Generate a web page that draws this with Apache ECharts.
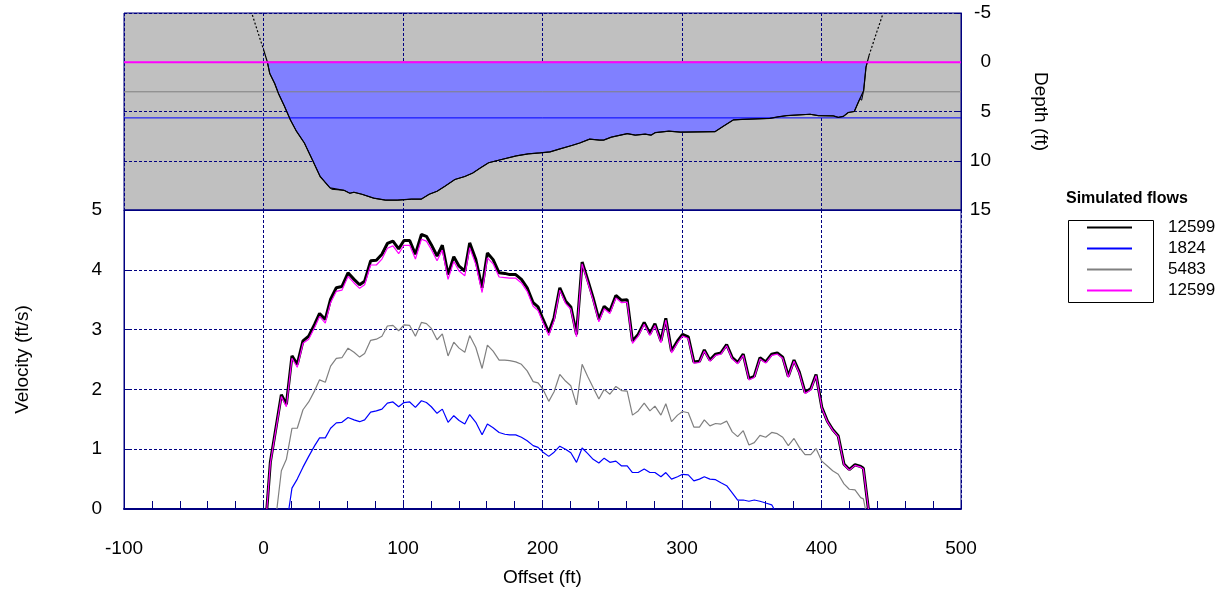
<!DOCTYPE html>
<html><head><meta charset="utf-8">
<script src="https://cdn.jsdelivr.net/npm/echarts@6/dist/echarts.min.js"></script>
<style>html,body{margin:0;padding:0;background:#fff}#c{width:1225px;height:592px}</style>
</head><body><div id="c"></div>
<script>
// ---- Velocity profiles (ft/s) vs offset (ft) ----
const stations = [
 2.4, 4.9, 9.6, 12.8, 16.4, 18.2, 20.4, 24.2, 28.3, 32.4,
 36.7, 40.2, 44.3, 48.1, 52.2, 56.2, 60.6, 64.9, 68.9, 72.5,
 76.8, 80.9, 84.9, 88.8, 92.8, 96.9, 100.7, 104.8, 108.9, 113.2,
 116.8, 120.3, 124.4, 128.2, 132.3, 136.4, 140.2, 144.3, 147.8, 152.2,
 156.7, 160.5, 164.6, 168.9, 173.0, 176.5, 180.8, 184.9, 189.0, 193.3,
 196.8, 200.4, 204.5, 208.3, 212.4, 216.5, 220.3, 224.4, 228.4, 232.3,
 236.3, 240.4, 244.2, 248.3, 252.6, 256.7, 260.7, 264.5, 268.6, 272.9,
 277.0, 280.6, 284.9, 288.4, 292.5, 296.8, 300.4, 304.5, 308.5, 312.5,
 316.0, 320.0, 324.1, 327.9, 332.0, 336.0, 339.9, 343.9, 348.0, 351.8,
 355.9, 360.0, 364.3, 366.0, 368.3, 372.2, 376.2, 380.3, 384.1, 388.2,
 392.3, 396.1, 400.2, 404.2, 408.0, 412.0, 416.1, 419.9, 424.0, 428.1,
 430.0, 431.5, 433.6];
const vel12599a = [
 0, 0.78, null, 1.91, 1.75, null, 2.56, 2.42, 2.81, 2.89,
 3.09, 3.27, 3.17, 3.51, 3.70, 3.72, 3.95, 3.84, 3.75, 3.81,
 4.15, 4.16, 4.26, 4.44, 4.48, 4.35, 4.49, 4.49, 4.26, 4.59,
 4.56, 4.42, 4.23, 4.41, 3.92, 4.22, 4.06, 3.98, 4.45, 4.17,
 3.70, 4.28, 4.17, 3.95, 3.94, 3.92, 3.92, 3.84, 3.70, 3.45,
 3.38, 3.17, 2.95, 3.20, 3.70, 3.48, 3.38, 2.92, 4.13, 3.84,
 3.53, 3.17, 3.39, 3.31, 3.57, 3.49, 3.50, 2.81, 2.92, 3.12,
 2.93, 3.10, 2.81, 3.19, 2.64, 2.81, 2.92, 2.88, 2.46, 2.47,
 2.66, 2.49, 2.59, 2.61, 2.75, 2.53, 2.45, 2.59, 2.18, 2.22,
 2.53, 2.46, 2.59, null, 2.61, 2.54, 2.22, 2.49, 2.29, 1.95,
 2.01, 2.25, 1.70, 1.47, 1.33, 1.22, 0.75, 0.66, 0.74, 0.71,
 0.68, null, 0];
const vel1824 = [
 null, null, null, null, null, 0, 0.35, 0.50, 0.70, 0.88,
 1.06, 1.19, 1.19, 1.35, 1.44, 1.45, 1.53, 1.49, 1.46, 1.49,
 1.62, 1.64, 1.67, 1.77, 1.79, 1.71, 1.78, 1.79, 1.70, 1.81,
 1.78, 1.71, 1.60, 1.67, 1.45, 1.56, 1.48, 1.42, 1.58, 1.45,
 1.24, 1.42, 1.36, 1.28, 1.25, 1.24, 1.24, 1.20, 1.14, 1.06,
 1.03, 0.95, 0.88, 0.95, 1.05, 1.00, 0.94, 0.78, 1.02, 0.93,
 0.83, 0.77, 0.85, 0.78, 0.80, 0.72, 0.72, 0.61, 0.61, 0.67,
 0.61, 0.61, 0.54, 0.61, 0.50, 0.54, 0.58, 0.57, 0.47, 0.50,
 0.54, 0.50, 0.49, 0.44, 0.39, 0.27, 0.15, 0.15, 0.13, 0.15,
 0.13, 0.10, 0.07, 0, null, null, null, null, null, null,
 null, null, null, null, null, null, null, null, null, null,
 null, null, null];
const vel5483 = [
 null, null, 0, 0.64, 0.83, null, 1.35, 1.35, 1.66, 1.79,
 1.98, 2.16, 2.12, 2.39, 2.52, 2.53, 2.69, 2.62, 2.54, 2.60,
 2.82, 2.84, 2.89, 3.06, 3.07, 2.98, 3.08, 3.07, 2.89, 3.12,
 3.10, 3.02, 2.83, 2.93, 2.56, 2.79, 2.69, 2.62, 2.90, 2.70,
 2.35, 2.74, 2.64, 2.49, 2.49, 2.48, 2.46, 2.42, 2.31, 2.13,
 2.11, 2.00, 1.80, 1.96, 2.25, 2.14, 2.06, 1.74, 2.42, 2.22,
 2.03, 1.84, 2.00, 1.92, 2.05, 1.98, 1.97, 1.57, 1.64, 1.77,
 1.64, 1.72, 1.57, 1.76, 1.46, 1.57, 1.63, 1.61, 1.37, 1.37,
 1.49, 1.39, 1.43, 1.42, 1.47, 1.29, 1.21, 1.31, 1.07, 1.11,
 1.23, 1.20, 1.28, null, 1.26, 1.20, 1.06, 1.18, 1.03, 0.91,
 0.91, 1.01, 0.80, 0.72, 0.64, 0.58, 0.42, 0.33, 0.32, 0.19,
 0.17, 0, null];
const vel12599b = [
 0, 0.76, null, 1.88, 1.71, null, 2.52, 2.37, 2.77, 2.84,
 3.04, 3.22, 3.11, 3.45, 3.64, 3.66, 3.89, 3.78, 3.69, 3.75,
 4.08, 4.08, 4.18, 4.36, 4.40, 4.27, 4.41, 4.41, 4.18, 4.51,
 4.48, 4.34, 4.15, 4.33, 3.84, 4.14, 3.98, 3.90, 4.37, 4.09,
 3.62, 4.20, 4.10, 3.88, 3.87, 3.86, 3.86, 3.78, 3.64, 3.39,
 3.32, 3.12, 2.90, 3.15, 3.66, 3.44, 3.34, 2.88, 4.10, 3.80,
 3.49, 3.13, 3.35, 3.27, 3.53, 3.45, 3.46, 2.77, 2.89, 3.09,
 2.90, 3.07, 2.78, 3.16, 2.61, 2.78, 2.89, 2.85, 2.44, 2.45,
 2.64, 2.47, 2.57, 2.59, 2.73, 2.51, 2.43, 2.57, 2.16, 2.20,
 2.51, 2.44, 2.57, null, 2.59, 2.52, 2.20, 2.47, 2.27, 1.93,
 1.99, 2.23, 1.69, 1.46, 1.32, 1.21, 0.74, 0.65, 0.73, 0.70,
 0.67, null, 0];

// ---- Cross-section (depth, ft) ----
const bedX = [0, 2.8, 4.5, 8.0, 10.8, 15.1, 19.3, 23.6, 29.3, 35.0,
 40.6, 47.7, 49.1, 57.7, 61.9, 64.8, 70.5, 79.0, 87.5, 96.0,
 106.0, 113.0, 118.8, 124.4, 130.0, 137.2, 144.3, 150.0, 155.7, 161.4,
 169.9, 181.3, 189.8, 198.3, 205.4, 212.5, 221.0, 226.7, 233.8, 240.9,
 243.8, 249.4, 260.8, 266.5, 273.6, 277.8, 280.7, 290.6, 299.1, 323.6,
 329.6, 336.7, 343.2, 363.0, 368.8, 375.0, 391.8, 397.7, 408.5, 412.0,
 415.6, 419.2, 423.5, 427.5, 428.8, 430.2, 431.9, 434.1];
const bedDepth = [-1.3, 0, 1.15, 2.15, 3.2, 4.5, 5.86, 7.0, 8.2, 9.9,
 11.6, 12.76, 12.9, 13.0, 13.3, 13.2, 13.4, 13.8, 14.0, 14.0,
 13.9, 13.9, 13.4, 13.1, 12.6, 11.9, 11.6, 11.25, 10.7, 10.2,
 9.9, 9.5, 9.3, 9.2, 9.1, 8.8, 8.45, 8.2, 7.8, 7.9,
 7.9, 7.6, 7.25, 7.4, 7.3, 7.4, 7.15, 7.0, 7.1, 7.05,
 6.5, 5.86, 5.8, 5.7, 5.55, 5.42, 5.28, 5.42, 5.45, 5.6,
 5.5, 5.1, 5.0, 3.7, 3.85, 2.9, 0.5, -0.7];
const bankLeftX = [-8, -3, 0];
const bankLeftDepth = [-4.8, -2.6, -1.3];
const bankRightX = [434.1, 439.6, 444];
const bankRightDepth = [-0.7, -3.06, -4.9];
const wsel12599 = 0, wsel5483 = 3.0, wsel1824 = 5.65;

const xTicks = {min: -100, max: 500, interval: 100};
const depthTicks = {min: -5, max: 15, interval: 5};
const velTicks = {min: 0, max: 5, interval: 1};

// ---- helpers ----
const pairs = (xs, ys) => xs.map((x, i) => [x, ys[i]]).filter(p => p[1] !== null);
function wetPolygon(xs, ds, level) {
  const out = [];
  for (let i = 0; i < xs.length; i++) {
    const d = ds[i];
    if (i > 0) {
      const d0 = ds[i - 1];
      if ((d0 - level) * (d - level) < 0) {
        const t = (level - d0) / (d - d0);
        out.push([xs[i - 1] + t * (xs[i] - xs[i - 1]), level]);
      }
    }
    if (d >= level) out.push([xs[i], d]);
  }
  return out;
}
const wet = wetPolygon(bedX, bedDepth, wsel12599);

const NAVY = '#000080';
const FONT = 'Liberation Sans, Arial, sans-serif';
const FS = 19;
const dash = {show: true, lineStyle: {color: NAVY, width: 1, type: [3, 2]}};
const hline = (y, color, w, z) => ({
  type: 'line', xAxisIndex: 0, yAxisIndex: 0, symbol: 'none', silent: true, z: z,
  data: [[xTicks.min, y], [xTicks.max, y]], lineStyle: {color: color, width: w}
});

const chart = echarts.init(document.getElementById('c'), null, {renderer: 'canvas'});
chart.setOption({
  animation: false,
  backgroundColor: '#fff',
  textStyle: {fontFamily: FONT},
  title: {text: 'Simulated flows', left: 1066, top: 191, padding: 0,
    textStyle: {fontFamily: FONT, fontSize: 16, fontWeight: 'bold', color: '#000'}},
  graphic: [{type: 'rect', left: 1066, top: 218, shape: {width: 85, height: 82},
    style: {fill: 'none', stroke: '#000', lineWidth: 1}, z: 100}],
  legend: {
    orient: 'vertical', left: 1086, top: 219, padding: 0,
    itemWidth: 45, itemHeight: 14, itemGap: 4,
    itemStyle: {opacity: 0, borderWidth: 0},
    data: ['12599', '1824', '5483', '12599 '],
    formatter: n => n.trim(),
    textStyle: {fontFamily: FONT, fontSize: 17, lineHeight: 14, color: '#000', padding: [0, 0, 0, 31]}
  },
  grid: [
    {left: 124, top: 13, width: 837, height: 197, show: true, backgroundColor: '#C0C0C0',
     borderColor: NAVY, borderWidth: 1},
    {left: 124, top: 210, width: 837, height: 300, show: true, backgroundColor: '#fff',
     borderColor: NAVY, borderWidth: 1}
  ],
  xAxis: [
    {type: 'value', gridIndex: 0, min: xTicks.min, max: xTicks.max, interval: xTicks.interval,
     axisLabel: {show: false}, axisTick: {show: false},
     axisLine: {show: true, onZero: false, lineStyle: {color: NAVY, width: 1}}, splitLine: dash},
    {type: 'value', gridIndex: 1, min: xTicks.min, max: xTicks.max, interval: xTicks.interval,
     name: 'Offset (ft)', nameLocation: 'middle', nameGap: 59,
     nameTextStyle: {fontFamily: FONT, fontSize: FS, color: '#000'},
     axisLabel: {fontFamily: FONT, fontSize: FS, color: '#000', margin: 30},
     axisTick: {show: true, inside: true, length: 8, lineStyle: {color: NAVY, width: 1}},
     minorTick: {show: true, splitNumber: 5, length: 8, lineStyle: {color: NAVY, width: 1}},
     axisLine: {show: true, onZero: false, lineStyle: {color: NAVY, width: 2}}, splitLine: dash}
  ],
  yAxis: [
    {type: 'value', gridIndex: 0, inverse: true, position: 'right',
     min: depthTicks.min, max: depthTicks.max, interval: depthTicks.interval,
     name: 'Depth (ft)', nameLocation: 'middle', nameRotate: -90, nameGap: 70,
     nameTextStyle: {fontFamily: FONT, fontSize: FS, color: '#000'},
     axisLabel: {fontFamily: FONT, fontSize: FS, color: '#000', align: 'right', margin: 30},
     axisTick: {show: true, inside: true, length: 5, lineStyle: {color: NAVY}},
     axisLine: {show: true, onZero: false, lineStyle: {color: NAVY, width: 1}}, splitLine: dash},
    {type: 'value', gridIndex: 1, min: velTicks.min, max: velTicks.max, interval: velTicks.interval,
     name: 'Velocity (ft/s)', nameLocation: 'middle', nameRotate: 90, nameGap: 92,
     nameTextStyle: {fontFamily: FONT, fontSize: FS, color: '#000'},
     axisLabel: {fontFamily: FONT, fontSize: FS, color: '#000', margin: 22},
     axisTick: {show: true, inside: true, length: 5, lineStyle: {color: NAVY}},
     axisLine: {show: true, onZero: false, lineStyle: {color: NAVY, width: 1}}, splitLine: dash}
  ],
  series: [
    {type: 'custom', xAxisIndex: 0, yAxisIndex: 0, silent: true, z: 2,
     data: [[0, 0]],
     renderItem: (params, api) => ({
       type: 'polygon', shape: {points: wet.map(p => api.coord(p))},
       style: {fill: '#8080FF', stroke: '#000', lineWidth: 1}
     })},
    hline(wsel1824, '#0000FF', 1, 3),
    hline(wsel5483, '#808080', 1, 3),
    {type: 'line', xAxisIndex: 0, yAxisIndex: 0, symbol: 'none', silent: true, z: 4,
     data: pairs(bedX, bedDepth), lineStyle: {color: '#000', width: 1.2}},
    {type: 'line', xAxisIndex: 0, yAxisIndex: 0, symbol: 'none', silent: true, z: 4,
     data: pairs(bankLeftX, bankLeftDepth), lineStyle: {color: '#000', width: 1.2, type: [2, 2]}},
    {type: 'line', xAxisIndex: 0, yAxisIndex: 0, symbol: 'none', silent: true, z: 4,
     data: pairs(bankRightX, bankRightDepth), lineStyle: {color: '#000', width: 1.2, type: [2, 2]}},
    hline(wsel12599, '#FF00FF', 2, 5),

    {name: '12599', type: 'line', xAxisIndex: 1, yAxisIndex: 1, symbol: 'none', z: 6,
     data: pairs(stations, vel12599a), color: '#000', lineStyle: {color: '#000', width: 3}},
    {name: '1824', type: 'line', xAxisIndex: 1, yAxisIndex: 1, symbol: 'none', z: 7,
     data: pairs(stations, vel1824), color: '#0000FF', lineStyle: {color: '#0000FF', width: 1.2}},
    {name: '5483', type: 'line', xAxisIndex: 1, yAxisIndex: 1, symbol: 'none', z: 7,
     data: pairs(stations, vel5483), color: '#808080', lineStyle: {color: '#808080', width: 1.2}},
    {name: '12599 ', type: 'line', xAxisIndex: 1, yAxisIndex: 1, symbol: 'none', z: 8,
     data: pairs(stations, vel12599b), color: '#FF00FF', lineStyle: {color: '#FF00FF', width: 1.2}}
  ]
});
</script>
</body></html>
